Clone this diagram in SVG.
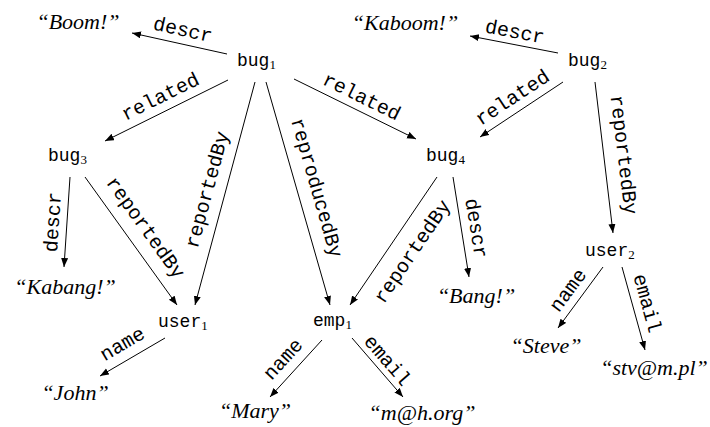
<svg xmlns="http://www.w3.org/2000/svg" width="710" height="427" viewBox="0 0 710 427">
<style>
.n{font-family:"Liberation Mono","DejaVu Sans Mono",monospace;font-size:18px;fill:#000}
.s{font-family:"Liberation Serif",serif;font-size:13px}
.v{font-family:"Liberation Serif",serif;font-style:italic;font-size:22px;fill:#000}
.l{font-family:"Liberation Mono","DejaVu Sans Mono",monospace;font-size:20px;fill:#000;text-anchor:middle}
.e line{stroke:#000;stroke-width:1;marker-end:url(#ah)}
</style>
<defs>
<marker id="ah" markerUnits="userSpaceOnUse" markerWidth="10" markerHeight="8" refX="9" refY="3.5" orient="auto">
<path d="M0,0 L9,3.5 L0,7 z" fill="#000"/>
</marker>
</defs>
<g id="bug1"><text class="n" x="237" y="66">bug<tspan class="s" dy="3">1</tspan></text></g>
<g id="bug2"><text class="n" x="568" y="66">bug<tspan class="s" dy="3">2</tspan></text></g>
<g id="bug3"><text class="n" x="48" y="161">bug<tspan class="s" dy="3">3</tspan></text></g>
<g id="bug4"><text class="n" x="426" y="161">bug<tspan class="s" dy="3">4</tspan></text></g>
<g id="user1"><text class="n" x="158" y="327">user<tspan class="s" dy="3">1</tspan></text></g>
<g id="emp1"><text class="n" x="313" y="326">emp<tspan class="s" dy="3">1</tspan></text></g>
<g id="user2"><text class="n" x="585" y="256">user<tspan class="s" dy="3">2</tspan></text></g>
<g id="boom"><text class="v" x="78" y="29" text-anchor="middle">“Boom!”</text></g>
<g id="kaboom"><text class="v" x="405" y="30" text-anchor="middle">“Kaboom!”</text></g>
<g id="kabang"><text class="v" x="65" y="294" text-anchor="middle">“Kabang!”</text></g>
<g id="bang"><text class="v" x="476" y="303" text-anchor="middle">“Bang!”</text></g>
<g id="john"><text class="v" x="75" y="400" text-anchor="middle">“John”</text></g>
<g id="mary"><text class="v" x="255" y="418" text-anchor="middle">“Mary”</text></g>
<g id="mho"><text class="v" x="422" y="420" text-anchor="middle">“m@h.org”</text></g>
<g id="steve"><text class="v" x="546" y="353" text-anchor="middle">“Steve”</text></g>
<g id="stv"><text class="v" x="654" y="375" text-anchor="middle">“stv@m.pl”</text></g>
<g id="connectors" class="e">
<line x1="227" y1="54" x2="132" y2="33"/>
<line x1="228" y1="80" x2="105" y2="141"/>
<line x1="255" y1="82" x2="195" y2="305"/>
<line x1="266" y1="82" x2="330" y2="305"/>
<line x1="294" y1="79" x2="416" y2="139"/>
<line x1="558" y1="53" x2="470" y2="36"/>
<line x1="563" y1="82" x2="480" y2="137"/>
<line x1="595" y1="82" x2="613" y2="233"/>
<line x1="70" y1="177" x2="64" y2="267"/>
<line x1="85" y1="177" x2="177" y2="305"/>
<line x1="437" y1="177" x2="350" y2="305"/>
<line x1="453" y1="177" x2="469" y2="277"/>
<line x1="165" y1="338" x2="100" y2="376"/>
<line x1="322" y1="340" x2="270" y2="397"/>
<line x1="352" y1="338" x2="403" y2="397"/>
<line x1="603" y1="267" x2="558" y2="328"/>
<line x1="622" y1="267" x2="645" y2="350"/>
<text class="l" transform="translate(183,29) rotate(12.5)" y="7">descr</text>
<text class="l" transform="translate(160,96) rotate(-26.4)" y="7">related</text>
<text class="l" transform="translate(208,190) rotate(-74.9)" y="5.4">reportedBy</text>
<text class="l" transform="translate(316,188) rotate(74)" y="5.4">reproducedBy</text>
<text class="l" transform="translate(362,96) rotate(26.2)" y="7">related</text>
<text class="l" transform="translate(515,31) rotate(10.9)" y="7">descr</text>
<text class="l" transform="translate(512,97) rotate(-33.5)" y="7">related</text>
<text class="l" transform="translate(623,155) rotate(83.2)" y="5.4">reportedBy</text>
<text class="l" transform="translate(52,222) rotate(-86.2)" y="7">descr</text>
<text class="l" transform="translate(145,228) rotate(54.3)" y="5.4">reportedBy</text>
<text class="l" transform="translate(413,252) rotate(-55.8)" y="5.4">reportedBy</text>
<text class="l" transform="translate(477,228) rotate(80.9)" y="7">descr</text>
<text class="l" transform="translate(123,345) rotate(-30.3)" y="5">name</text>
<text class="l" transform="translate(284,360) rotate(-47.6)" y="5">name</text>
<text class="l" transform="translate(388,360) rotate(49.2)" y="7">email</text>
<text class="l" transform="translate(569,291) rotate(-53.6)" y="5">name</text>
<text class="l" transform="translate(648,303) rotate(74.5)" y="7">email</text>
</g>
</svg>
